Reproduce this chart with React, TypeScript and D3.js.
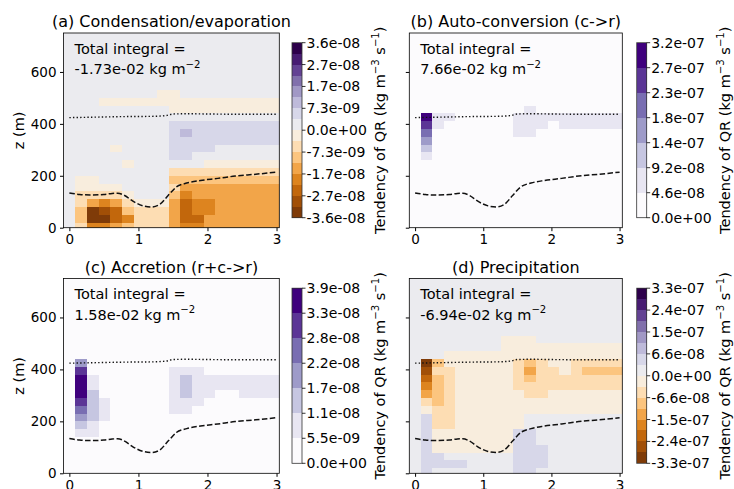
import React, { useEffect, useRef } from 'react';
import * as d3 from 'd3';

const FONT = 'DejaVu Sans, sans-serif';

// model grid: 19 columns along x (km), 30 m rows in z
const colStart = -0.085;
const colWidth = 0.169;
const rowStart = -10;
const rowHeight = 30;

const xTicks = [0, 1, 2, 3];
const zTicks = [0, 200, 400, 600];

// cloud base (dashed) and cloud top (dotted)
const baseX = [0, 0.15, 0.3, 0.5, 0.62, 0.7, 0.8, 0.92, 1.07, 1.19, 1.31, 1.43, 1.55, 1.7, 1.9, 2.15, 2.4, 2.7, 3.0];
const baseZ = [134, 128, 126, 128, 132, 133, 124, 102, 84, 80, 90, 124, 157, 172, 182, 190, 199, 206, 214];
const topX = [0, 0.4, 0.8, 1.2, 1.4, 1.5, 1.7, 2.0, 2.5, 3.0];
const topZ = [424, 426, 428, 429, 432, 438, 439, 438, 437, 437];

// colour band per cell (hex digit), one string per row, first = 500-530 m, last = lowest row
const condGrid = [
  '8888888877888888888',
  '8887777777777777777',
  '8888888887777777777',
  '8888888888888888888',
  '8888888889999999999',
  '8888888889a99999999',
  '8888888889999999999',
  '8888788889999888888',
  '8888888889988888888',
  '8888878888887777777',
  '8888888886666666666',
  '8778888885555555555',
  '8777788886444444444',
  '8666678885344444444',
  '8643467774233444444',
  '8501256664233444444',
  '8500236664224444444',
  '8633456664334444444',
];

const autoGrid = [
  '0000000000000000000',
  '0000000000000000000',
  '0000000000100000000',
  '0611000001111111111',
  '0510000001110111111',
  '0400000001100000000',
  '0300000000000000000',
  '0200000000000000000',
  '0100000000000000000',
  '0000000000000000000',
  '0000000000000000000',
  '0000000000000000000',
  '0000000000000000000',
  '0000000000000000000',
  '0000000000000000000',
  '0000000000000000000',
  '0000000000000000000',
  '0000000000000000000',
];

const accrGrid = [
  '0000000000000000000',
  '0000000000000000000',
  '0000000000000000000',
  '0300000000000000000',
  '0500000001110000000',
  '0610000001211111111',
  '0610000001211111111',
  '0620000001211001111',
  '0521000001110000000',
  '0421000001100000000',
  '0321000000000000000',
  '0210000000000000000',
  '0110000000000000000',
  '0000000000000000000',
  '0000000000000000000',
  '0000000000000000000',
  '0000000000000000000',
  '0000000000000000000',
];

const precGrid = [
  '8888888877788888888',
  '8888888877777777777',
  '8887777777777777777',
  '8057777776567766666',
  '8166777776466765555',
  '8256777776566666666',
  '8356777776666666666',
  '8456777777667777777',
  '8656777777777777777',
  '8766777777777777777',
  '8966777777888888888',
  '8966777777888888888',
  '8977777779988888888',
  '8977777779988888888',
  '8977777779998888888',
  '8998888889998888888',
  '8999988889998888888',
  '8988888889988888888',
];

const condTicks = ['-3.6e-08', '-2.7e-08', '-1.7e-08', '-7.3e-09', '0.0e+00', '7.3e-09', '1.7e-08', '2.7e-08', '3.6e-08'];
const autoTicks = ['0.0e+00', '4.6e-08', '9.2e-08', '1.4e-07', '1.8e-07', '2.3e-07', '2.7e-07', '3.2e-07'];
const accrTicks = ['0.0e+00', '5.5e-09', '1.1e-08', '1.7e-08', '2.2e-08', '2.8e-08', '3.3e-08', '3.9e-08'];
const precTicks = ['-3.3e-07', '-2.4e-07', '-1.5e-07', '-6.6e-08', '0.0e+00', '6.6e-08', '1.5e-07', '2.4e-07', '3.3e-07'];

const titles = ['(a) Condensation/evaporation', '(b) Auto-conversion (c->r)', '(c) Accretion (r+c->r)', '(d) Precipitation'];
const integrals = ['-1.73e-02', '7.66e-02', '1.58e-02', '-6.94e-02'];

const panels = [
  { grid: condGrid, ticks: condTicks, diverging: true, col: 0, row: 0 },
  { grid: autoGrid, ticks: autoTicks, diverging: false, col: 1, row: 0 },
  { grid: accrGrid, ticks: accrTicks, diverging: false, col: 0, row: 1 },
  { grid: precGrid, ticks: precTicks, diverging: true, col: 1, row: 1 },
];

const colsX = [[63.5, 279.3], [409.3, 622.3]];
const rowsY = [[33, 227.7], [278.5, 473.3]];
const cbarX = [292, 636.7];

// text with superscript pieces
const appendRich = (text, parts, fs) => {
  let prevSup = false;
  parts.forEach(([s, sup]) => {
    const dy = sup ? -0.42 * fs : prevSup ? 0.42 * fs : 0;
    text.append('tspan').attr('dy', dy).attr('font-size', sup ? fs * 0.7 : fs).text(s);
    prevSup = sup;
  });
};

const drawPanel = (svg, p, idx) => {
  const [x0, x1] = colsX[p.col];
  const [y0, y1] = rowsY[p.row];
  const x = d3.scaleLinear().domain([-0.085, 3.04]).range([x0, x1]);
  const z = d3.scaleLinear().domain([0, 750]).range([y1, y0]);
  const nBands = p.diverging ? 16 : 7;
  const bg = p.diverging ? 8 : 0;
  // band 0 = most negative (orange/brown) for the diverging map
  const color = (k) =>
    p.diverging ? d3.interpolatePuOr(1 - k / (nBands - 1)) : d3.interpolatePurples(k / (nBands - 1));

  const g = svg.append('g');
  const clipId = `clip${idx}`;
  g.append('clipPath').attr('id', clipId).append('rect')
    .attr('x', x0).attr('y', y0).attr('width', x1 - x0).attr('height', y1 - y0);
  const plot = g.append('g').attr('clip-path', `url(#${clipId})`);

  plot.append('rect').attr('x', x0).attr('y', y0).attr('width', x1 - x0).attr('height', y1 - y0).attr('fill', color(bg));

  const cells = [];
  p.grid.forEach((rowStr, i) => {
    const r = p.grid.length - 1 - i;
    rowStr.split('').forEach((ch, c) => {
      const k = parseInt(ch, 16);
      if (k !== bg) cells.push({ c, r, k });
    });
  });

  plot.selectAll('rect.cell')
    .data(cells)
    .enter()
    .append('rect')
    .attr('class', 'cell')
    .attr('x', (d) => x(colStart + d.c * colWidth))
    .attr('width', (d) => x(colStart + (d.c + 1) * colWidth) - x(colStart + d.c * colWidth))
    .attr('y', (d) => z(rowStart + (d.r + 1) * rowHeight))
    .attr('height', (d) => z(rowStart + d.r * rowHeight) - z(rowStart + (d.r + 1) * rowHeight))
    .attr('fill', (d) => color(d.k))
    .attr('shape-rendering', 'crispEdges');

  const line = d3.line().x((d) => x(d[0])).y((d) => z(d[1])).curve(d3.curveMonotoneX);
  plot.append('path')
    .attr('d', line(d3.zip(baseX, baseZ)))
    .attr('fill', 'none').attr('stroke', '#111').attr('stroke-width', 1.5).attr('stroke-dasharray', '5.5,2.4');
  plot.append('path')
    .attr('d', line(d3.zip(topX, topZ)))
    .attr('fill', 'none').attr('stroke', '#111').attr('stroke-width', 1.4).attr('stroke-dasharray', '1.4,2.2');

  // axes
  const xAxis = g.append('g')
    .attr('transform', `translate(0,${y1})`)
    .call(d3.axisBottom(x).tickValues(xTicks).tickSize(3.5).tickPadding(3.5).tickFormat(d3.format('d')));
  xAxis.select('.domain').remove();
  xAxis.attr('font-size', 13.5).attr('font-family', FONT);
  xAxis.selectAll('text').attr('fill', '#000');

  const yAxis = g.append('g')
    .attr('transform', `translate(${x0},0)`)
    .call(d3.axisLeft(z).tickValues(zTicks).tickSize(3.5).tickPadding(3.5)
      .tickFormat(p.col === 0 ? d3.format('d') : () => ''));
  yAxis.select('.domain').remove();
  yAxis.attr('font-size', 13.5).attr('font-family', FONT);
  yAxis.selectAll('text').attr('fill', '#000');

  g.append('rect').attr('x', x0).attr('y', y0).attr('width', x1 - x0).attr('height', y1 - y0)
    .attr('fill', 'none').attr('stroke', '#000').attr('stroke-width', 0.8);

  if (p.col === 0) {
    g.append('text')
      .attr('transform', `translate(24,${(y0 + y1) / 2}) rotate(-90)`)
      .attr('text-anchor', 'middle').attr('font-family', FONT).attr('font-size', 14.5)
      .text('z (m)');
  }

  // title and integral annotation
  g.append('text').attr('x', (x0 + x1) / 2).attr('y', y0 - 6).attr('text-anchor', 'middle')
    .attr('font-family', FONT).attr('font-size', 16).text(titles[idx]);
  g.append('text').attr('x', x0 + 11).attr('y', y0 + 20.5)
    .attr('font-family', FONT).attr('font-size', 14.5).text('Total integral =');
  const t2 = g.append('text').attr('x', x0 + 11).attr('y', y0 + 41).attr('font-family', FONT);
  appendRich(t2, [[`${integrals[idx]} kg m`, false], ['\u22122', true]], 14.5);

  // colorbar
  const cx = cbarX[p.col];
  const cy0 = y0 + 9.7;
  const cy1 = y1 - 10;
  const cb = d3.scaleLinear().domain([0, nBands]).range([cy1, cy0]);
  g.selectAll('rect.band')
    .data(d3.range(nBands))
    .enter()
    .append('rect')
    .attr('class', 'band')
    .attr('x', cx).attr('width', 10)
    .attr('y', (k) => cb(k + 1))
    .attr('height', (k) => cb(k) - cb(k + 1))
    .attr('fill', (k) => color(k))
    .attr('shape-rendering', 'crispEdges');
  g.append('rect').attr('x', cx).attr('y', cy0).attr('width', 10).attr('height', cy1 - cy0)
    .attr('fill', 'none').attr('stroke', '#333').attr('stroke-width', 0.8);

  const ct = d3.scaleLinear().domain([0, p.ticks.length - 1]).range([cy1, cy0]);
  p.ticks.forEach((label, j) => {
    g.append('line').attr('x1', cx + 10).attr('x2', cx + 13.5).attr('y1', ct(j)).attr('y2', ct(j))
      .attr('stroke', '#000').attr('stroke-width', 0.8);
    g.append('text').attr('x', cx + 14.5).attr('y', ct(j)).attr('dy', '0.36em')
      .attr('font-family', FONT).attr('font-size', 14).text(label);
  });

  const cl = g.append('text')
    .attr('transform', `translate(${cx + 93.3},${(cy0 + cy1) / 2}) rotate(-90)`)
    .attr('text-anchor', 'middle').attr('font-family', FONT);
  appendRich(cl, [['Tendency of QR (kg m', false], ['\u22123', true], [' s', false], ['\u22121', true], [')', false]], 14.5);
};

const App = () => {
  const svgRef = useRef(null);

  useEffect(() => {
    const svg = d3.select(svgRef.current);
    svg.selectAll('*').remove();
    svg.append('rect').attr('width', 734).attr('height', 489).attr('fill', '#fff');
    panels.forEach((p, i) => drawPanel(svg, p, i));
  }, []);

  return (
    <svg
      ref={svgRef}
      width={734}
      height={489}
      style={{ position: 'absolute', left: 0, top: 0, display: 'block' }}
    />
  );
};

export default App;
